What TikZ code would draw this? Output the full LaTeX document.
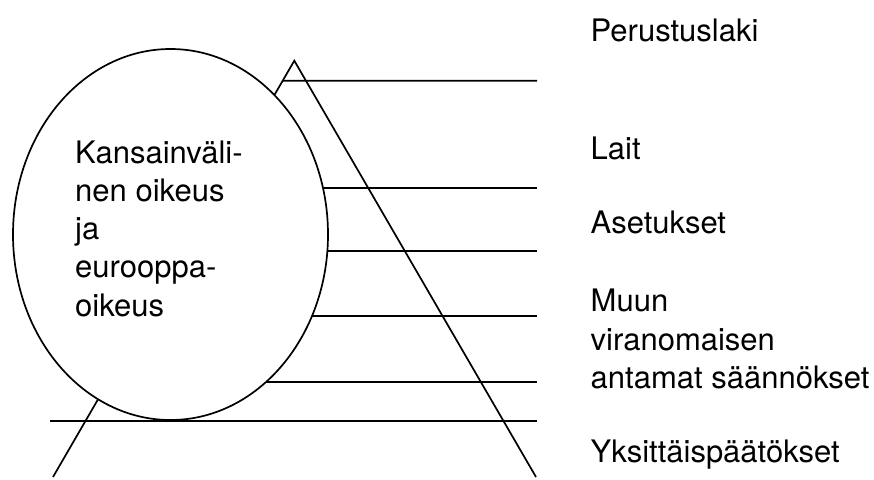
\documentclass[tikz,border=0pt]{standalone}
\usepackage{fontspec}
\setmainfont{TeX Gyre Heros}
\usetikzlibrary{shapes.geometric,calc,positioning}
\tikzset{
levline/.style={line width=1.7pt}, % all the strokes
levtext/.style={anchor=base west, inner sep=0pt, align=left, font=\fontsize{31}{38.2}\selectfont},
}

\begin{document}
\begin{tikzpicture}[x=1pt,y=1pt,yscale=-1,xscale=1]
\useasboundingbox (0,0) rectangle (874,479);
%Triangle
\coordinate (apex) at (294.3,60.7);
\coordinate (bl) at (53,477);
\coordinate (br) at (536,477);
\draw [levline] (bl) -- (apex) -- (br);
%Straight Lines
\draw [levline] ($(apex)!0.0483!(bl)$) -- (537,80.7);
\foreach \y in {188.3,250.7,315.7,382.3}
  \draw [levline] (200,\y) -- (537,\y);
%Ellipse
\node (circ) [draw, ellipse, fill=white, levline, minimum width=315pt, minimum height=371pt, inner sep=0pt] at (170.5,234.5) {};
%Straight Lines
\draw [levline] (50,420.7) -- (537,420.7);
% base west of a multi-line node sits on its last line
\node (intl) [levtext] at (75,316) {Kansainväli-\\nen oikeus\\ja\\eurooppa-\\oikeus};
\node (perus) [levtext] at (590.5,41.7) {Perustuslaki};
\node (lait) [levtext] at (590.5,159.3) {Lait};
\node (aset) [levtext] at (590.5,233.3) {Asetukset};
\node (muun) [levtext] at (590.5,388.3) {Muun\\viranomaisen\\antamat säännökset};
\node (yks) [levtext] at (590.5,462.7) {Yksittäispäätökset};
\end{tikzpicture}
\end{document}
